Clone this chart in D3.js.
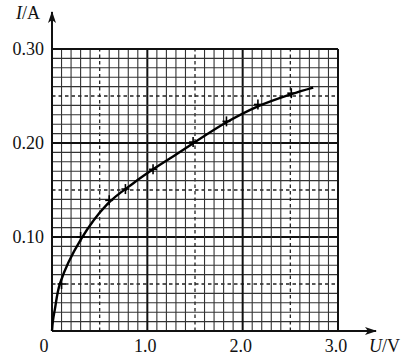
<!DOCTYPE html>
<html>
<head>
<meta charset="utf-8">
<script src="https://cdn.jsdelivr.net/npm/d3@7"></script>
<style>
  body { margin: 0; background: #fff; }
  text { font-family: "Liberation Serif", "DejaVu Serif", serif; fill: #111; }
</style>
</head>
<body>
<div id="chart"></div>
<script>
// measured points (U in V, I in A)
const pointU = [0.10, 0.30, 0.60, 0.77, 1.06, 1.48, 1.83, 2.16, 2.51]
const pointI = [0.050, 0.100, 0.139, 0.151, 0.172, 0.201, 0.223, 0.241, 0.253]
// hand-drawn fitting curve
const curveU = [0, 0.01, 0.03, 0.085, 0.30, 0.58, 0.85, 1.06, 1.29, 1.83, 2.16, 2.51, 2.74]
const curveI = [0, 0.011, 0.023, 0.051, 0.097, 0.135, 0.157, 0.172, 0.187, 0.222, 0.239, 0.252, 0.259]
const xTickLabels = ['1.0', '2.0', '3.0']
const yTickLabels = ['0.10', '0.20', '0.30']

const width = 401, height = 358
const svg = d3.select('#chart').append('svg')
  .attr('width', width)
  .attr('height', height)

const x = d3.scaleLinear().domain([0, 3]).range([52, 338])
const y = d3.scaleLinear().domain([0, 0.3]).range([331, 49])

// grid: 0.1 V / 0.01 A per small square, dashed every 5, heavy every 10
const grid = svg.append('g')
d3.range(0, 31).forEach(i => {
  const major = i % 10 === 0
  const half = i % 5 === 0 && !major
  const stroke = major ? '#111' : (half ? '#222' : '#333')
  const sw = major ? 2 : (half ? 1.3 : 1.1)
  const dash = half ? '3.5,3' : null
  grid.append('line')
    .attr('x1', x(i / 10)).attr('x2', x(i / 10))
    .attr('y1', y(0)).attr('y2', y(0.3))
    .attr('stroke', stroke).attr('stroke-width', sw)
    .attr('stroke-dasharray', dash)
  grid.append('line')
    .attr('x1', x(0)).attr('x2', x(3))
    .attr('y1', y(i / 100)).attr('y2', y(i / 100))
    .attr('stroke', stroke).attr('stroke-width', sw)
    .attr('stroke-dasharray', dash)
})

// axes with arrows
svg.append('defs').append('marker')
  .attr('id', 'arrow')
  .attr('viewBox', '0 0 12 8')
  .attr('refX', 11).attr('refY', 4)
  .attr('markerWidth', 12).attr('markerHeight', 8)
  .attr('markerUnits', 'userSpaceOnUse')
  .attr('orient', 'auto')
  .append('path')
  .attr('d', 'M0,0 L12,4 L0,8 L3,4 Z')
  .attr('fill', '#111')

svg.append('line')
  .attr('x1', x(0)).attr('y1', y(0))
  .attr('x2', x(0)).attr('y2', 12)
  .attr('stroke', '#111').attr('stroke-width', 2)
  .attr('marker-end', 'url(#arrow)')
svg.append('line')
  .attr('x1', x(0)).attr('y1', y(0))
  .attr('x2', 376).attr('y2', y(0))
  .attr('stroke', '#111').attr('stroke-width', 2)
  .attr('marker-end', 'url(#arrow)')

// tick labels
svg.append('g').selectAll('text')
  .data(xTickLabels)
  .enter().append('text')
  .attr('x', d => x(+d) - 2)
  .attr('y', 352)
  .attr('text-anchor', 'middle')
  .attr('font-size', 18)
  .text(d => d)
svg.append('g').selectAll('text')
  .data(yTickLabels)
  .enter().append('text')
  .attr('x', 44)
  .attr('y', d => y(+d) + 6)
  .attr('text-anchor', 'end')
  .attr('font-size', 18)
  .text(d => d)
svg.append('text')
  .attr('x', 44).attr('y', 352)
  .attr('text-anchor', 'middle')
  .attr('font-size', 18)
  .text('0')

// axis titles
const yTitle = svg.append('text').attr('x', 16).attr('y', 19).attr('font-size', 18)
yTitle.append('tspan').attr('font-style', 'italic').text('I')
yTitle.append('tspan').text('/A')
const xTitle = svg.append('text').attr('x', 369).attr('y', 352).attr('font-size', 18)
xTitle.append('tspan').attr('font-style', 'italic').text('U')
xTitle.append('tspan').text('/V')

// fitted curve
const line = d3.line()
  .x(d => x(d[0]))
  .y(d => y(d[1]))
  .curve(d3.curveCatmullRom.alpha(0.5))
svg.append('path')
  .attr('d', line(curveU.map((u, i) => [u, curveI[i]])))
  .attr('fill', 'none')
  .attr('stroke', '#000')
  .attr('stroke-width', 2.4)

// "+" markers
const marks = svg.append('g')
pointU.forEach((u, i) => {
  const cx = x(u), cy = y(pointI[i])
  marks.append('line')
    .attr('x1', cx - 4).attr('x2', cx + 4)
    .attr('y1', cy).attr('y2', cy)
    .attr('stroke', '#000').attr('stroke-width', 1.6)
  marks.append('line')
    .attr('x1', cx).attr('x2', cx)
    .attr('y1', cy - 5).attr('y2', cy + 5)
    .attr('stroke', '#000').attr('stroke-width', 1.6)
})
</script>
</body>
</html>
